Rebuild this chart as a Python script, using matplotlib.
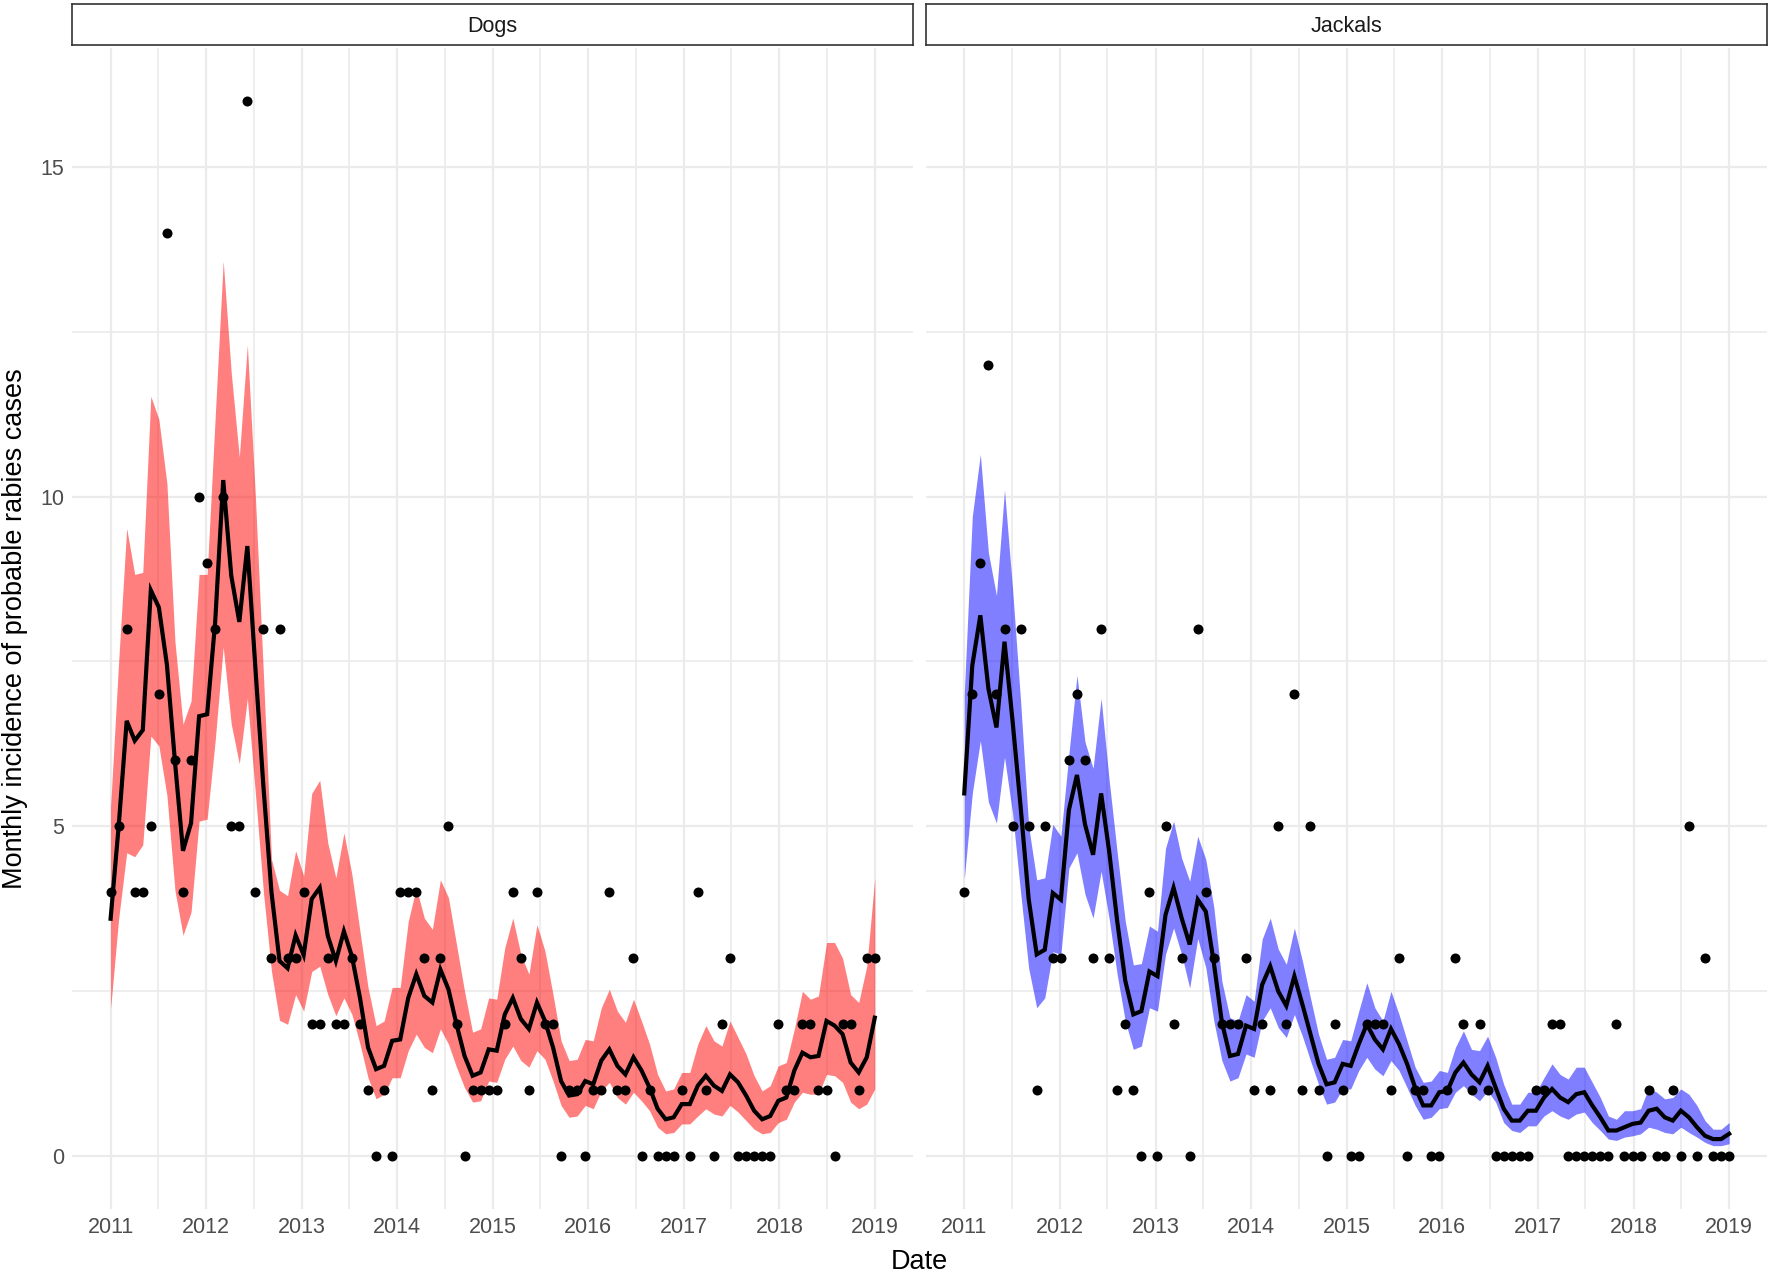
import numpy as np
import pandas as pd
import matplotlib
matplotlib.use("Agg")
import matplotlib.pyplot as plt
import matplotlib.dates as mdates
from matplotlib.ticker import FixedLocator

plt.rcParams['font.family'] = ['Liberation Sans', 'DejaVu Sans']

# ---------------- data ----------------
dates = pd.date_range('2011-01-01', '2019-01-01', periods=96)

dogs_obs = [4, 5, 8, 4, 4, 5, 7, 14, 6, 4, 6, 10, 9, 8, 10, 5, 5, 16, 4, 8, 3, 8, 3, 3,
            4, 2, 2, 3, 2, 2, 3, 2, 1, 0, 1, 0, 4, 4, 4, 3, 1, 3, 5, 2, 0, 1, 1, 1,
            1, 2, 4, 3, 1, 4, 2, 2, 0, 1, 1, 0, 1, 1, 4, 1, 1, 3, 0, 1, 0, 0, 0, 1,
            0, 4, 1, 0, 2, 3, 0, 0, 0, 0, 0, 2, 1, 1, 2, 2, 1, 1, 0, 2, 2, 1, 3, 3]
dogs_fit = [3.6, 5.0, 6.6, 6.3, 6.46, 8.58, 8.32, 7.45, 5.98, 4.63, 5.05, 6.67, 6.7, 8.1, 10.25, 8.8,
            8.1, 9.25, 7.4, 5.6, 4.0, 2.96, 2.85, 3.35, 3.05, 3.9, 4.07, 3.34, 2.96, 3.41, 3.03, 2.4,
            1.65, 1.32, 1.37, 1.75, 1.77, 2.4, 2.76, 2.43, 2.33, 2.83, 2.53, 2.0, 1.52, 1.22, 1.27, 1.62,
            1.6, 2.15, 2.4, 2.08, 1.93, 2.33, 2.05, 1.65, 1.14, 0.92, 0.94, 1.14, 1.09, 1.45, 1.62, 1.37,
            1.24, 1.5, 1.3, 1.04, 0.72, 0.56, 0.59, 0.79, 0.79, 1.07, 1.22, 1.07, 0.99, 1.24, 1.12, 0.92,
            0.69, 0.56, 0.61, 0.84, 0.89, 1.3, 1.57, 1.5, 1.52, 2.05, 1.98, 1.85, 1.42, 1.27, 1.5, 2.1]
dogs_hi = [5.3, 7.5, 9.52, 8.82, 8.85, 11.52, 11.17, 10.2, 7.8, 6.55, 6.9, 8.82, 8.82, 11.2, 13.57, 11.87,
           10.6, 12.3, 10.0, 7.3, 4.5, 4.03, 3.95, 4.63, 4.25, 5.5, 5.7, 4.75, 4.22, 4.9, 4.27, 3.41,
           2.56, 1.98, 2.05, 2.56, 2.56, 3.56, 4.07, 3.61, 3.44, 4.19, 3.92, 3.21, 2.5, 1.88, 1.93, 2.4,
           2.38, 3.16, 3.61, 3.06, 2.76, 3.51, 3.11, 2.45, 1.75, 1.45, 1.47, 1.77, 1.75, 2.25, 2.53, 2.2,
           2.03, 2.38, 2.05, 1.7, 1.24, 0.99, 1.02, 1.27, 1.27, 1.7, 1.98, 1.75, 1.67, 2.05, 1.8, 1.55,
           1.22, 0.99, 1.07, 1.37, 1.42, 1.93, 2.5, 2.38, 2.43, 3.24, 3.24, 3.0, 2.45, 2.33, 2.88, 4.22]
dogs_lo = [2.24, 3.6, 4.6, 4.54, 4.72, 6.37, 6.22, 5.47, 4.03, 3.35, 3.7, 5.08, 5.11, 6.3, 7.72, 6.55,
           5.95, 6.94, 5.5, 4.0, 2.8, 2.06, 2.0, 2.45, 2.2, 2.8, 2.88, 2.45, 2.13, 2.4, 2.15, 1.7,
           1.19, 0.87, 0.94, 1.19, 1.19, 1.6, 1.85, 1.65, 1.57, 1.93, 1.7, 1.35, 1.04, 0.82, 0.84, 1.14,
           1.12, 1.47, 1.67, 1.45, 1.35, 1.6, 1.47, 1.14, 0.77, 0.59, 0.61, 0.77, 0.72, 0.99, 1.12, 0.89,
           0.79, 0.97, 0.84, 0.69, 0.44, 0.34, 0.36, 0.49, 0.49, 0.61, 0.72, 0.64, 0.61, 0.77, 0.67, 0.54,
           0.41, 0.34, 0.36, 0.51, 0.56, 0.82, 0.97, 0.94, 0.94, 1.24, 1.22, 1.12, 0.82, 0.72, 0.79, 1.02]

jackals_obs = [4, 7, 9, 12, 7, 8, 5, 8, 5, 1, 5, 3, 3, 6, 7, 6, 3, 8, 3, 1, 2, 1, 0, 4,
               0, 5, 2, 3, 0, 8, 4, 3, 2, 2, 2, 3, 1, 2, 1, 5, 2, 7, 1, 5, 1, 0, 2, 1,
               0, 0, 2, 2, 2, 1, 3, 0, 1, 1, 0, 0, 1, 3, 2, 1, 2, 1, 0, 0, 0, 0, 0, 1,
               1, 2, 2, 0, 0, 0, 0, 0, 0, 2, 0, 0, 0, 1, 0, 0, 1, 0, 5, 0, 3, 0, 0, 0]
jackals_fit = [5.5, 7.44, 8.2, 7.09, 6.5, 7.8, 6.6, 5.3, 3.9, 3.06, 3.13, 3.99, 3.89, 5.25, 5.78, 5.03,
               4.57, 5.5, 4.62, 3.56, 2.66, 2.15, 2.2, 2.8, 2.73, 3.66, 4.07, 3.61, 3.21, 3.89, 3.71, 2.93,
               2.03, 1.52, 1.55, 1.98, 1.93, 2.6, 2.88, 2.5, 2.28, 2.73, 2.3, 1.85, 1.4, 1.09, 1.12, 1.4,
               1.37, 1.7, 2.0, 1.77, 1.62, 1.93, 1.7, 1.4, 1.04, 0.77, 0.77, 0.97, 0.99, 1.27, 1.42, 1.24,
               1.12, 1.37, 1.04, 0.72, 0.54, 0.54, 0.69, 0.69, 0.89, 1.02, 0.89, 0.82, 0.94, 0.97, 0.77, 0.59,
               0.39, 0.39, 0.44, 0.49, 0.51, 0.69, 0.72, 0.59, 0.54, 0.69, 0.59, 0.44, 0.31, 0.26, 0.26, 0.34]
jackals_hi = [7.0, 9.7, 10.64, 9.15, 8.5, 10.1, 8.6, 6.9, 5.0, 4.19, 4.22, 5.03, 4.85, 6.1, 7.29, 6.28,
              5.88, 6.94, 5.7, 4.6, 3.56, 2.9, 2.92, 3.49, 3.41, 4.67, 5.08, 4.52, 4.17, 4.85, 4.5, 3.77,
              2.65, 2.1, 2.05, 2.45, 2.35, 3.29, 3.61, 3.14, 2.91, 3.46, 2.96, 2.4, 1.85, 1.47, 1.5, 1.77,
              1.75, 2.2, 2.63, 2.25, 2.05, 2.5, 2.15, 1.75, 1.35, 1.12, 1.14, 1.3, 1.27, 1.65, 1.9, 1.62,
              1.6, 1.82, 1.5, 1.09, 0.79, 0.79, 0.97, 0.97, 1.19, 1.4, 1.24, 1.17, 1.35, 1.35, 1.12, 0.89,
              0.61, 0.56, 0.69, 0.69, 0.72, 1.04, 0.97, 0.87, 0.89, 1.02, 0.94, 0.77, 0.54, 0.41, 0.41, 0.51]
jackals_lo = [4.2, 5.5, 6.3, 5.37, 5.05, 6.05, 5.2, 4.0, 2.85, 2.25, 2.4, 3.1, 3.06, 4.37, 4.6, 3.97,
              3.61, 4.32, 3.6, 2.75, 2.05, 1.62, 1.67, 2.25, 2.2, 3.06, 3.46, 3.06, 2.55, 3.3, 2.86, 2.05,
              1.45, 1.14, 1.19, 1.55, 1.5, 2.05, 2.25, 1.95, 1.8, 2.15, 1.82, 1.45, 1.09, 0.79, 0.82, 1.02,
              1.02, 1.3, 1.5, 1.32, 1.22, 1.45, 1.3, 1.04, 0.77, 0.56, 0.59, 0.72, 0.74, 0.97, 1.07, 0.94,
              0.84, 0.99, 0.82, 0.51, 0.39, 0.36, 0.46, 0.46, 0.61, 0.69, 0.61, 0.56, 0.64, 0.67, 0.51, 0.39,
              0.26, 0.24, 0.29, 0.31, 0.34, 0.44, 0.41, 0.36, 0.34, 0.44, 0.36, 0.29, 0.21, 0.16, 0.16, 0.19]

facets = ['Dogs', 'Jackals']
ribbon_colors = ['#FF0000', '#0000FF']
year_ticks = list(range(2011, 2020))
y_ticks = [0, 5, 10, 15]
y_minor = [2.5, 7.5, 12.5]

series = [(dogs_obs, dogs_fit, dogs_lo, dogs_hi), (jackals_obs, jackals_fit, jackals_lo, jackals_hi)]

# ---------------- figure ----------------
W, H = 1770, 1273
fig = plt.figure(figsize=(W / 100, H / 100), dpi=100)

panel_bottom = 1 - 1209 / H
panel_top = 1 - 48 / H
panels_x = [(72.4, 913.0), (926.0, 1767.4)]

xnum = mdates.date2num(dates)
x0, x1 = xnum[0], xnum[-1]
xr = x1 - x0
ymin_d, ymax_d = 0.0, 16.0
yr = ymax_d - ymin_d

major_x = [mdates.date2num(pd.Timestamp(f'{y}-01-01')) for y in year_ticks]
minor_x = [mdates.date2num(pd.Timestamp(f'{y}-07-01')) for y in year_ticks[:-1]]

grid_col = '#EBEBEB'
for k, (name, col, (obs, fit, lo, hi)) in enumerate(zip(facets, ribbon_colors, series)):
    l, r = panels_x[k]
    ax = fig.add_axes([l / W, panel_bottom, (r - l) / W, panel_top - panel_bottom])
    ax.set_xlim(x0 - 0.05 * xr, x1 + 0.05 * xr)
    ax.set_ylim(ymin_d - 0.05 * yr, ymax_d + 0.05 * yr)
    for s in ax.spines.values():
        s.set_visible(False)
    # grid
    for xv in major_x:
        ax.axvline(xv, color=grid_col, lw=1.6, zorder=0)
    for xv in minor_x:
        ax.axvline(xv, color=grid_col, lw=1.2, zorder=0)
    for yv in y_ticks:
        ax.axhline(yv, color=grid_col, lw=1.6, zorder=0)
    for yv in y_minor:
        ax.axhline(yv, color=grid_col, lw=1.2, zorder=0)

    ax.fill_between(dates, lo, hi, color=col, alpha=0.5, lw=0, zorder=1)
    ax.plot(dates, fit, color='black', lw=3.0, zorder=2, solid_joinstyle='miter')
    ax.plot(dates, obs, 'o', color='black', ms=7.2, mec='none', zorder=3)

    ax.xaxis.set_major_locator(FixedLocator(major_x))
    ax.set_xticklabels([str(y) for y in year_ticks])
    ax.set_yticks(y_ticks)
    ax.tick_params(length=0, labelsize=15.5, labelcolor='#4D4D4D', pad=6)
    if k == 1:
        ax.set_yticklabels([])
    else:
        ax.set_yticklabels([str(v) for v in y_ticks])

    # strip
    sax = fig.add_axes([l / W, 1 - 45 / H, (r - l) / W, 41 / H])
    sax.set_xticks([])
    sax.set_yticks([])
    for s in sax.spines.values():
        s.set_color('#333333')
        s.set_linewidth(1.2)
    sax.text(0.5, 0.44, name, ha='center', va='center', fontsize=15.5, color='#1A1A1A',
             transform=sax.transAxes)

fig.text(919 / W, 1 - 1262 / H, 'Date', ha='center', va='center', fontsize=19.5)
fig.text(15 / W, 1 - 629 / H, 'Monthly incidence of probable rabies cases', ha='center',
         va='center', rotation=90, fontsize=19.5)

fig.savefig('out.png', dpi=100)
